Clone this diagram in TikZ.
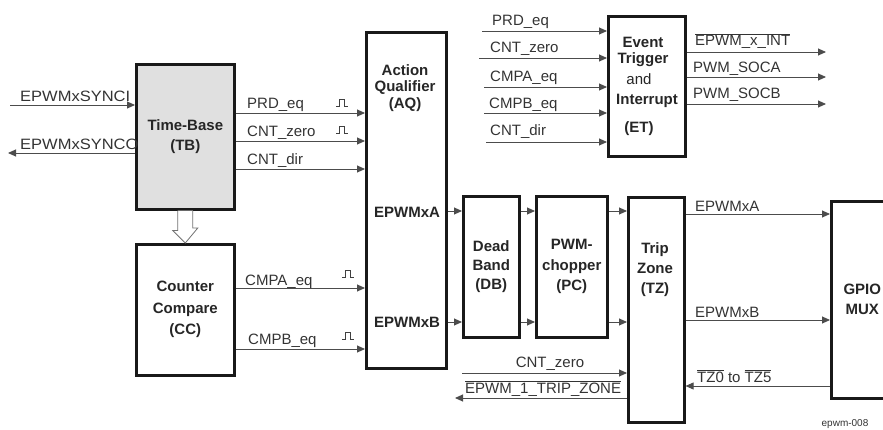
\documentclass[tikz,border=0pt]{standalone}
\usepackage{fontspec}
\setmainfont{Liberation Sans}
\newfontfamily\widefont{Liberation Sans}[FakeStretch=1.1]
\usetikzlibrary{arrows.meta,calc}
\begin{document}
\begin{tikzpicture}[x=1pt,y=-1pt,
  box/.style={draw=black!90, line width=2.6pt, anchor=north west, inner sep=0pt, align=center,
    font=\fontsize{15}{20.5}\selectfont\bfseries, text=black!85},
  title/.style={font=\fontsize{15}{20}\selectfont\bfseries, align=center, text=black!85, inner sep=0pt},
  lab/.style={font=\fontsize{15}{18}\selectfont, text=black!80, inner sep=0pt, anchor=base west},
  arr/.style={draw=black!70, line width=0.9pt, -{Triangle[length=8pt,width=7pt]}},
  hollowarr/.style={draw=black!55, line width=0.8pt, fill=white},
  pulse/.pic={\draw[black!75, line width=0.8pt] (-6,0) -- (-2.5,0) -- (-2.5,-7) -- (2,-7) -- (2,0) -- (6,0);}
]
\useasboundingbox (0,0) rectangle (883,430);

% boxes
\node[box, fill=black!12, minimum width=98, minimum height=145] (tb) at (135,63) {Time-Base\\(TB)};
\node[box, minimum width=98, minimum height=131, font=\fontsize{15}{21.5}\selectfont\bfseries] (cc) at (135,243) {Counter\\Compare\\(CC)};
\node[box, minimum width=80, minimum height=336] (aq) at (365,31) {};
\node[box, minimum width=56, minimum height=141, font=\fontsize{15}{19}\selectfont\bfseries] (db) at (462,195) {Dead\\Band\\(DB)};
\node[box, minimum width=71, minimum height=141] (pc) at (535,195) {PWM-\\chopper\\(PC)};
\node[box, minimum width=56, minimum height=225] (tz) at (627,196) {};
\node[box, minimum width=77, minimum height=140] (et) at (607,15) {};
\node[box, minimum width=80, minimum height=197, font=\fontsize{15}{20}\selectfont\bfseries] (gpio) at (830,200) {\hspace*{-18pt}GPIO\\\hspace*{-18pt}MUX};

% titles placed inside boxes
\node[title, font=\fontsize{15}{16.5}\selectfont\bfseries] (aqt) at (405,88) {Action\\Qualifier\\(AQ)};
\node[title] (aqa) at (407,212) {EPWMxA};
\node[title] (aqb) at (407,322) {EPWMxB};
\node[title] (tzt) at (655,270) {Trip\\Zone\\(TZ)};
\node[title] (et1) at (643,42) {Event};
\node[title] (et2) at (643,60) {Trigger};
\node[title, font=\fontsize{15}{20}\selectfont] (et3) at (639,79) {and};
\node[title] (et4) at (647,101) {Interrupt};
\node[title] (et5) at (639,129) {(ET)};

% hollow arrow TB -> CC
\draw[hollowarr] ($(tb.south)+(-7.5,0)$) -- ++(0,20) -- ++(-5,0) -- (cc.north) -- ++(12.5,-15) -- ++(-5,0) -- ($(tb.south)+(7.5,0)$);

% sync signals
\coordinate (synci) at (10,105);
\coordinate (synco) at (8,153);
\draw[arr] (synci) -- (tb.west |- synci);
\draw[arr] (tb.west |- synco) -- (synco);
\node[lab, font=\fontsize{15}{18}\selectfont\widefont] (lsynci) at (20,102) {EPWMxSYNCI};
\node[lab, font=\fontsize{15}{18}\selectfont\widefont] (lsynco) at (20,150) {EPWMxSYNCO};

% TB -> AQ
\draw[arr] (tb.east |- 0,113) -- (aq.west |- 0,113);
\draw[arr] (tb.east |- 0,141) -- (aq.west |- 0,141);
\draw[arr] (tb.east |- 0,169) -- (aq.west |- 0,169);
\node[lab] (l1) at (247,109) {PRD\_eq};
\node[lab] (l2) at (247,137) {CNT\_zero};
\node[lab] (l3) at (247,165) {CNT\_dir};
\pic at (342,106) {pulse};
\pic at (342,133) {pulse};

% CC -> AQ
\draw[arr] (cc.east |- 0,288) -- (aq.west |- 0,288);
\draw[arr] (cc.east |- 0,349) -- (aq.west |- 0,349);
\node[lab] (l4) at (245,285) {CMPA\_eq};
\node[lab] (l5) at (248,344) {CMPB\_eq};
\pic at (348,277) {pulse};
\pic at (348,339) {pulse};

% AQ -> DB -> PC -> TZ
\draw[arr] (aq.east |- 0,211) -- (db.west |- 0,211);
\draw[arr] (aq.east |- 0,322) -- (db.west |- 0,322);
\draw[arr] (db.east |- 0,211) -- (pc.west |- 0,211);
\draw[arr] (db.east |- 0,322) -- (pc.west |- 0,322);
\draw[arr] (pc.east |- 0,211) -- (tz.west |- 0,211);
\draw[arr] (pc.east |- 0,322) -- (tz.west |- 0,322);

% TZ -> GPIO
\draw[arr] (tz.east |- 0,214) -- (gpio.west |- 0,214);
\draw[arr] (tz.east |- 0,320) -- (gpio.west |- 0,320);
\draw[arr] (gpio.west |- 0,386) -- (tz.east |- 0,386);
\node[lab] (l6) at (695,212) {EPWMxA};
\node[lab] (l7) at (695,317) {EPWMxB};
\node[lab] (l8) at (697,382) {$\overline{\mbox{TZ0}}$ to $\overline{\mbox{TZ5}}$};

% bottom left of TZ
\coordinate (cz) at (462,373);
\coordinate (tzo) at (455,398);
\draw[arr] (cz) -- (tz.west |- cz);
\draw[arr] (tz.west |- tzo) -- (tzo);
\node[lab, anchor=base] (l9) at (550,367) {CNT\_zero};
\node[lab] (l10) at (465,393) {$\overline{\mbox{EPWM\_1\_TRIP\_ZONE}}$};

% ET inputs
\coordinate (e1) at (482,31);
\coordinate (e2) at (479,58);
\coordinate (e3) at (484,87);
\coordinate (e4) at (484,113);
\coordinate (e5) at (486,142);
\draw[arr] (e1) -- (et.west |- e1);
\draw[arr] (e2) -- (et.west |- e2);
\draw[arr] (e3) -- (et.west |- e3);
\draw[arr] (e4) -- (et.west |- e4);
\draw[arr] (e5) -- (et.west |- e5);
\node[lab] (m1) at (492,26) {PRD\_eq};
\node[lab] (m2) at (490,53) {CNT\_zero};
\node[lab] (m3) at (490,82) {CMPA\_eq};
\node[lab] (m4) at (489,109) {CMPB\_eq};
\node[lab] (m5) at (490,136) {CNT\_dir};

% ET outputs
\coordinate (o1) at (826,52);
\coordinate (o2) at (826,77);
\coordinate (o3) at (826,104);
\draw[arr] (et.east |- o1) -- (o1);
\draw[arr] (et.east |- o2) -- (o2);
\draw[arr] (et.east |- o3) -- (o3);
\node[lab] (n1) at (695,46) {$\overline{\mbox{EPWM\_x\_INT}}$};
\node[lab] (n2) at (693,73) {PWM\_SOCA};
\node[lab] (n3) at (693,99) {PWM\_SOCB};

% figure id
\node[lab, anchor=base, font=\fontsize{10}{12}\selectfont] (fid) at (845,426) {epwm-008};
\end{tikzpicture}
\end{document}
